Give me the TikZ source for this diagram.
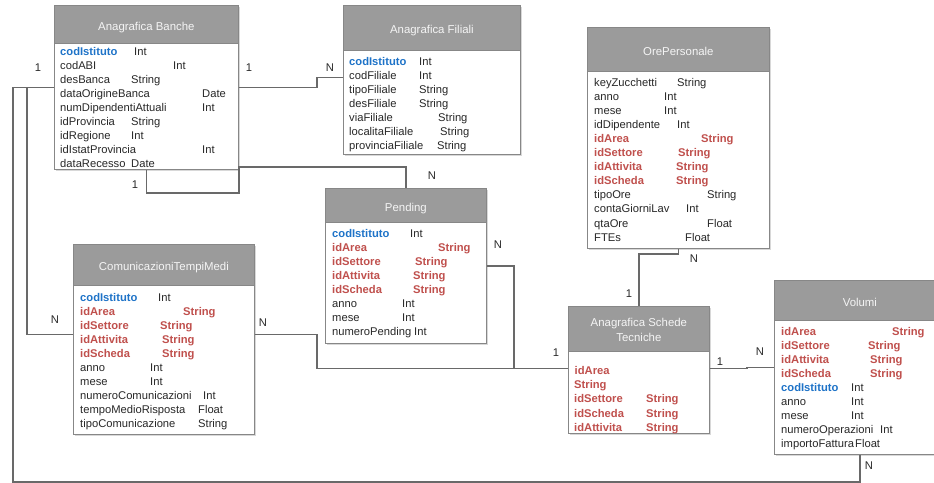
\documentclass[tikz,border=0pt]{standalone}
\usepackage{fontspec}
\setmainfont{Liberation Sans}
\usepackage{xcolor}
\usetikzlibrary{shadows}
\definecolor{erhead}{RGB}{155,155,155}
\definecolor{erframe}{RGB}{135,135,135}
\definecolor{erline}{RGB}{105,105,105}
\definecolor{erblue}{RGB}{30,115,200}
\definecolor{erred}{RGB}{192,80,77}
\definecolor{ertext}{RGB}{40,40,40}
\newcommand{\pkey}[1]{\textcolor{erblue}{\bfseries #1}}
\newcommand{\fkey}[1]{\textcolor{erred}{\bfseries #1}}
\tikzset{
erbox/.style={rectangle,draw=erframe,fill=white,line width=0.8pt,anchor=north west,inner sep=0pt,
  drop shadow={shadow xshift=1.5pt,shadow yshift=-1.5pt,fill=black!30,opacity=0.5}},
erhead/.style={rectangle,draw=erframe,fill=erhead,line width=0.8pt,anchor=north west,inner sep=0pt,
  text=white!96!black,align=center,text height=12pt,text depth=0pt,font=\fontsize{11.4}{15}\selectfont},
erattr/.style={anchor=base west,inner sep=0pt,text=ertext,font=\fontsize{11.2}{13}\selectfont},
ercard/.style={inner sep=0pt,text=ertext,font=\fontsize{11.2}{13}\selectfont},
erlink/.style={draw=erline,line width=1.4pt}
}

\begin{document}
\begin{tikzpicture}[x=1pt,y=-1pt]
\useasboundingbox (0,0) rectangle (934,482);
\clip (0,0) rectangle (934,482);
% entities
\node[erbox,minimum width=184pt,minimum height=164pt] (banche) at (54,5) {};
\node[erhead,minimum width=184pt,minimum height=38pt] (banche-h) at (54,5) {Anagrafica Banche};
\node[erbox,minimum width=177pt,minimum height=149pt] (filiali) at (343,5) {};
\node[erhead,minimum width=177pt,minimum height=45pt] (filiali-h) at (343,5) {Anagrafica Filiali};
\node[erbox,minimum width=182pt,minimum height=221pt] (orep) at (587,27) {};
\node[erhead,minimum width=182pt,minimum height=44pt] (orep-h) at (587,27) {OrePersonale};
\node[erbox,minimum width=161pt,minimum height=155pt] (pending) at (325,188) {};
\node[erhead,minimum width=161pt,minimum height=34pt] (pending-h) at (325,188) {Pending};
\node[erbox,minimum width=181pt,minimum height=190pt] (ctm) at (73,244) {};
\node[erhead,minimum width=181pt,minimum height=41pt] (ctm-h) at (73,244) {ComunicazioniTempiMedi};
\node[erbox,minimum width=141pt,minimum height=127pt] (astec) at (568,306) {};
\node[erhead,minimum width=141pt,minimum height=45pt,text height=26pt] (astec-h) at (568,306) {Anagrafica Schede\\Tecniche};
\node[erbox,minimum width=171pt,minimum height=174pt] (volumi) at (774,280) {};
\node[erhead,minimum width=171pt,minimum height=40pt] (volumi-h) at (774,280) {Volumi};
% attributes
\foreach \n/\t/\o [count=\i] in {{\pkey{codIstituto}}/Int/74,codABI/Int/113,desBanca/String/71,
  dataOrigineBanca/Date/142,numDipendentiAttuali/Int/142,idProvincia/String/71,idRegione/Int/71,
  idIstatProvincia/Int/142,dataRecesso/Date/71}
  \node[erattr] (banche-\i) at (60,40.9+14.1*\i) {\makebox[\o pt][l]{\n}\t};
\foreach \n/\t/\o [count=\i] in {{\pkey{codIstituto}}/Int/70,codFiliale/Int/70,tipoFiliale/String/70,
  desFiliale/String/70,viaFiliale/String/89,localitaFiliale/String/91,provinciaFiliale/String/88}
  \node[erattr] (filiali-\i) at (349,50.9+14.1*\i) {\makebox[\o pt][l]{\n}\t};
\foreach \n/\t/\o [count=\i] in {keyZucchetti/String/83,anno/Int/70,mese/Int/70,idDipendente/Int/83,
  {\fkey{idArea}}/{\fkey{String}}/107,{\fkey{idSettore}}/{\fkey{String}}/84,
  {\fkey{idAttivita}}/{\fkey{String}}/82,{\fkey{idScheda}}/{\fkey{String}}/82,
  tipoOre/String/113,contaGiorniLav/Int/92,qtaOre/Float/113,FTEs/Float/91}
  \node[erattr] (orep-\i) at (594,71.9+14.1*\i) {\makebox[\o pt][l]{\n}\t};
\foreach \n/\t/\o [count=\i] in {{\pkey{codIstituto}}/Int/78,{\fkey{idArea}}/{\fkey{String}}/106,
  {\fkey{idSettore}}/{\fkey{String}}/83,{\fkey{idAttivita}}/{\fkey{String}}/81,
  {\fkey{idScheda}}/{\fkey{String}}/81,anno/Int/70,mese/Int/70,numeroPending/Int/82}
  \node[erattr] (pending-\i) at (332,222.9+14.1*\i) {\makebox[\o pt][l]{\n}\t};
\foreach \n/\t/\o [count=\i] in {{\pkey{codIstituto}}/Int/78,{\fkey{idArea}}/{\fkey{String}}/103,
  {\fkey{idSettore}}/{\fkey{String}}/80,{\fkey{idAttivita}}/{\fkey{String}}/82,
  {\fkey{idScheda}}/{\fkey{String}}/82,anno/Int/70,mese/Int/70,numeroComunicazioni/Int/123,
  tempoMedioRisposta/Float/118,tipoComunicazione/String/118}
  \node[erattr] (ctm-\i) at (80,286.9+14.1*\i) {\makebox[\o pt][l]{\n}\t};
\foreach \n/\t/\o [count=\i] in {{\fkey{idArea}}/{}/0,{}/{\fkey{String}}/0,
  {\fkey{idSettore}}/{\fkey{String}}/72,{\fkey{idScheda}}/{\fkey{String}}/72,
  {\fkey{idAttivita}}/{\fkey{String}}/72}
  \node[erattr] (astec-\i) at (574,359.6+14.4*\i) {\makebox[\o pt][l]{\n}\t};
\foreach \n/\t/\o [count=\i] in {{\fkey{idArea}}/{\fkey{String}}/111,{\fkey{idSettore}}/{\fkey{String}}/87,
  {\fkey{idAttivita}}/{\fkey{String}}/89,{\fkey{idScheda}}/{\fkey{String}}/89,
  {\pkey{codIstituto}}/Int/70,anno/Int/70,mese/Int/70,numeroOperazioni/Int/99,importoFattura/Float/74}
  \node[erattr] (volumi-\i) at (781,320.9+14.1*\i) {\makebox[\o pt][l]{\n}\t};
% relations
\draw[erlink] (banche.east) -- ++(78,0) |- ([yshift=2.5pt]filiali.west);
\draw[erlink] (banche.south) -- ++(0,23) -| ([yshift=3pt]banche.south east) -| (pending.north);
\draw[erlink] (banche.west) -- ++(-27,0) |- ([yshift=5pt]ctm.west);
\draw[erlink] (banche.west) -- ++(-41,0) |- ([yshift=-27pt]volumi.south) -- (volumi.south);
\draw[erlink] ([yshift=5pt]ctm.east) -- ++(62,0) |- ([yshift=1.5pt]astec.west);
\draw[erlink] (pending.east) -- ++(27,0) |- ([yshift=1.5pt]astec.west);
\draw[erlink] (orep.south) -- ++(0,5) -| (astec.north);
\draw[erlink] ([yshift=1.5pt]astec.east) -- ++(37,0) |- (volumi.west);
% cardinalities
\node[ercard] (c-bl) at (38,68) {1};
\node[ercard] (c-br) at (249,68) {1};
\node[ercard] (c-fl) at (330,68) {N};
\node[ercard] (c-bb) at (135,185) {1};
\node[ercard] (c-pt) at (432,176) {N};
\node[ercard] (c-cl) at (55,320) {N};
\node[ercard] (c-cr) at (263,323) {N};
\node[ercard] (c-pr) at (498,245) {N};
\node[ercard] (c-al) at (556,353) {1};
\node[ercard] (c-ob) at (694,259) {N};
\node[ercard] (c-at) at (629,294) {1};
\node[ercard] (c-ar) at (720,362) {1};
\node[ercard] (c-vl) at (760,352) {N};
\node[ercard] (c-vb) at (869,466) {N};
\end{tikzpicture}
\end{document}
